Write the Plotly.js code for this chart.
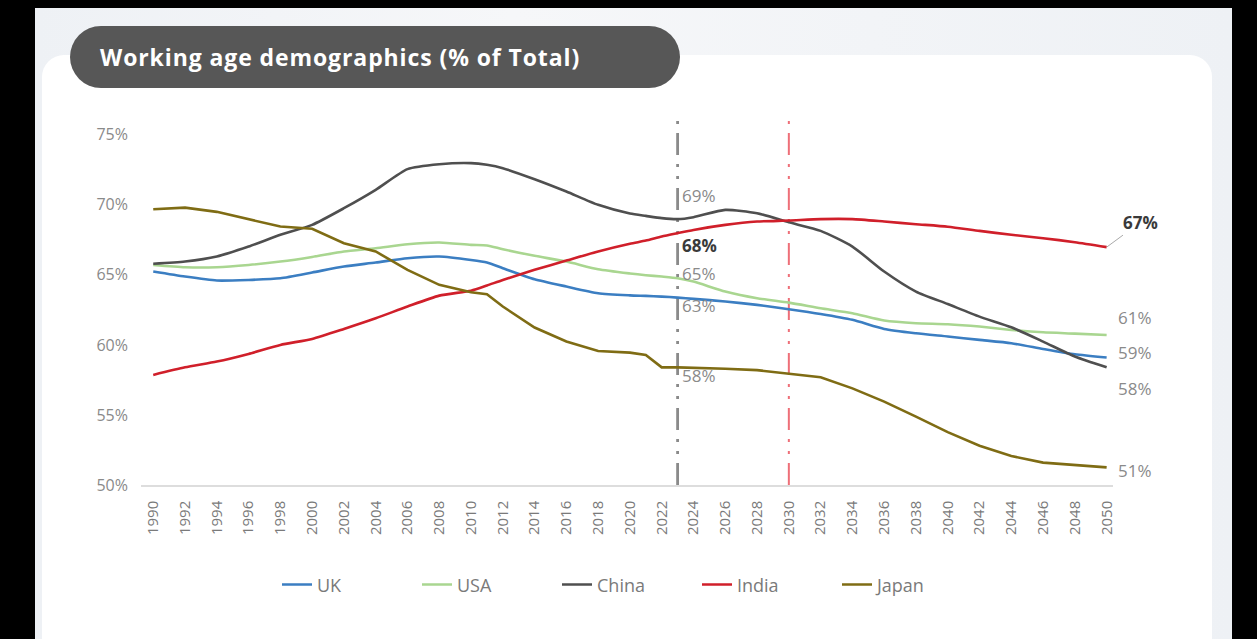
<!DOCTYPE html>
<html>
<head>
<meta charset="utf-8">
<script src="https://cdn.plot.ly/plotly-3.0.1.min.js"></script>
<style>
  html, body { margin:0; padding:0; background:#000; width:1257px; height:639px; overflow:hidden; }
  #bg { position:absolute; left:35px; top:8px; width:1197px; height:631px; background:linear-gradient(90deg,#eef1f5,#f6f7f9 40%,#eef1f5); }
  #panel { position:absolute; left:42px; top:55px; width:1170px; height:620px; background:#fff; border-radius:22px; }
  #pill { position:absolute; left:70px; top:26px; width:610px; height:62px; border-radius:31px; background:#575757;
          color:#fff; font-family:"Open Sans", sans-serif; font-weight:700; font-size:23px; line-height:62px;
          padding-left:30px; box-sizing:border-box; letter-spacing:0.9px; white-space:nowrap; }
  #chart { position:absolute; left:0; top:0; width:1257px; height:639px; }
</style>
</head>
<body>
<div id="bg"></div>
<div id="panel"></div>
<div id="pill">Working age demographics (% of Total)</div>
<div id="chart"></div>
<script>
// ---- data ----
const years = [1990,1992,1994,1996,1998,2000,2002,2004,2006,2008,2010,2011,2012,2014,2016,2018,2020,2021,2022,2023,2024,2026,2028,2030,2032,2034,2036,2038,2040,2042,2044,2046,2048,2050];
const uk    = [65.24,64.88,64.60,64.64,64.76,65.17,65.60,65.88,66.19,66.31,66.06,65.88,65.48,64.69,64.17,63.69,63.54,63.50,63.45,63.38,63.29,63.10,62.86,62.55,62.21,61.79,61.14,60.83,60.60,60.36,60.12,59.71,59.33,59.10];
const usa   = [65.71,65.55,65.55,65.71,65.95,66.28,66.67,66.90,67.19,67.31,67.14,67.10,66.83,66.36,65.95,65.40,65.10,64.98,64.88,64.76,64.52,63.81,63.33,63.02,62.62,62.26,61.74,61.55,61.48,61.31,61.07,60.90,60.81,60.71];
const china = [65.79,65.95,66.31,67.02,67.86,68.57,69.76,71.07,72.55,72.90,72.98,72.86,72.62,71.83,70.95,70.00,69.38,69.21,69.05,68.98,69.12,69.64,69.40,68.75,68.14,67.02,65.24,63.81,62.92,62.02,61.26,60.24,59.17,58.40];
const india = [57.86,58.40,58.81,59.36,60.00,60.43,61.14,61.90,62.74,63.52,63.87,64.24,64.64,65.36,66.02,66.67,67.22,67.45,67.74,67.98,68.21,68.57,68.81,68.88,68.98,68.98,68.81,68.62,68.44,68.14,67.86,67.62,67.33,66.98];
const japan = [69.69,69.80,69.50,68.98,68.45,68.29,67.26,66.67,65.36,64.29,63.76,63.62,62.74,61.24,60.24,59.57,59.45,59.29,58.40,58.40,58.38,58.30,58.20,57.95,57.69,56.90,55.95,54.88,53.77,52.80,52.07,51.60,51.43,51.26];
const seriesNames  = ["UK","USA","China","India","Japan"];
const seriesValues = [uk, usa, china, india, japan];
const yTicks = [50,55,60,65,70,75];
const yTickText = yTicks.map(v => v + "%");
const xTicks = [];
for (let y = 1990; y <= 2050; y += 2) xTicks.push(y);
const refYears = [2023, 2030];

// ---- styles ----
const colors = ["#3b7ec2","#a9d690","#4f4f4f","#d01f2a","#7f6c14"];
const lblFont = {family:"Open Sans, sans-serif", size:17, color:"#8a8a8a"};
const boldFont = {family:"Open Sans, sans-serif", size:17, color:"#3a3a3a"};

const traces = seriesNames.map((n,i) => ({
  x: years, y: seriesValues[i], name: n, type:"scatter", mode:"lines",
  line:{color:colors[i], width:2.6, shape: n==="Japan" ? "linear" : "spline", smoothing:0.6},
  hoverinfo:"x+y+name"
}));

// annotations: values at first reference year and at the end
const annotations = [];
const refIdx = years.indexOf(refYears[0]);
const lastIdx = years.length - 1;
const refShift = {UK:-8, USA:5, China:24, India:-12, Japan:-8};
const endShift = {UK:5, USA:17, China:-21, Japan:-3};
seriesNames.forEach((n,i) => {
  const v = seriesValues[i][refIdx];
  annotations.push({x:refYears[0], y:v, xref:"x", yref:"y", text: n==="India" ? "<b>"+Math.round(v)+"%</b>" : Math.round(v)+"%",
    showarrow:false, xanchor:"left", yanchor:"middle", xshift:2, yshift:refShift[n], font: n==="India" ? boldFont : lblFont});
  const e = seriesValues[i][lastIdx];
  if (n === "India") {
    annotations.push({x:years[lastIdx], y:e, xref:"x", yref:"y", text:"<b>"+Math.round(e)+"%</b>",
      showarrow:true, arrowhead:0, arrowwidth:1, arrowcolor:"#aaaaaa", ax:34, ay:-25, font:boldFont, standoff:0});
  } else {
    annotations.push({x:years[lastIdx], y:e, xref:"x", yref:"y", text:Math.round(e)+"%",
      showarrow:false, xanchor:"left", yanchor:"middle", xshift:9, yshift:endShift[n], font:lblFont});
  }
});

const dashPat = "22px,9px,3px,9px,3px,9px";
const shapes = [
  {type:"line", xref:"x", yref:"paper", x0:refYears[0], x1:refYears[0], y0:0, y1:1,
   line:{color:"#8a8a8a", width:2.8, dash:dashPat}, layer:"below"},
  {type:"line", xref:"x", yref:"paper", x0:refYears[1], x1:refYears[1], y0:0, y1:1,
   line:{color:"#ee6f78", width:2, dash:dashPat}, layer:"below"}
];

const layout = {
  width:1257, height:639,
  margin:{l:141, r:144, t:118, b:154},
  paper_bgcolor:"rgba(0,0,0,0)", plot_bgcolor:"rgba(0,0,0,0)",
  showlegend:true,
  legend:{orientation:"h", x:0.5, xanchor:"center", y:-0.272, yanchor:"middle",
          entrywidth:95, entrywidthmode:"pixels",
          font:{family:"Open Sans, sans-serif", size:18, color:"#7a7a7a"}},
  xaxis:{range:[1989.23, 2050.4], tickvals:xTicks, ticktext:xTicks.map(String), tickangle:-90,
         showgrid:false, zeroline:false, showline:true, linecolor:"#dddddd", linewidth:1.5,
         ticks:"", ticklabelstandoff:8,
         tickfont:{family:"Open Sans, sans-serif", size:15, color:"#7a7a7a"}},
  yaxis:{range:[50, 76.2], tickvals:yTicks, ticktext:yTickText, showgrid:false, zeroline:false,
         showline:false, ticks:"", ticklabelstandoff:12,
         tickfont:{family:"Open Sans, sans-serif", size:16, color:"#8a8a8a"}},
  shapes: shapes,
  annotations: annotations
};

Plotly.newPlot("chart", traces, layout, {displayModeBar:false});
</script>
</body>
</html>
